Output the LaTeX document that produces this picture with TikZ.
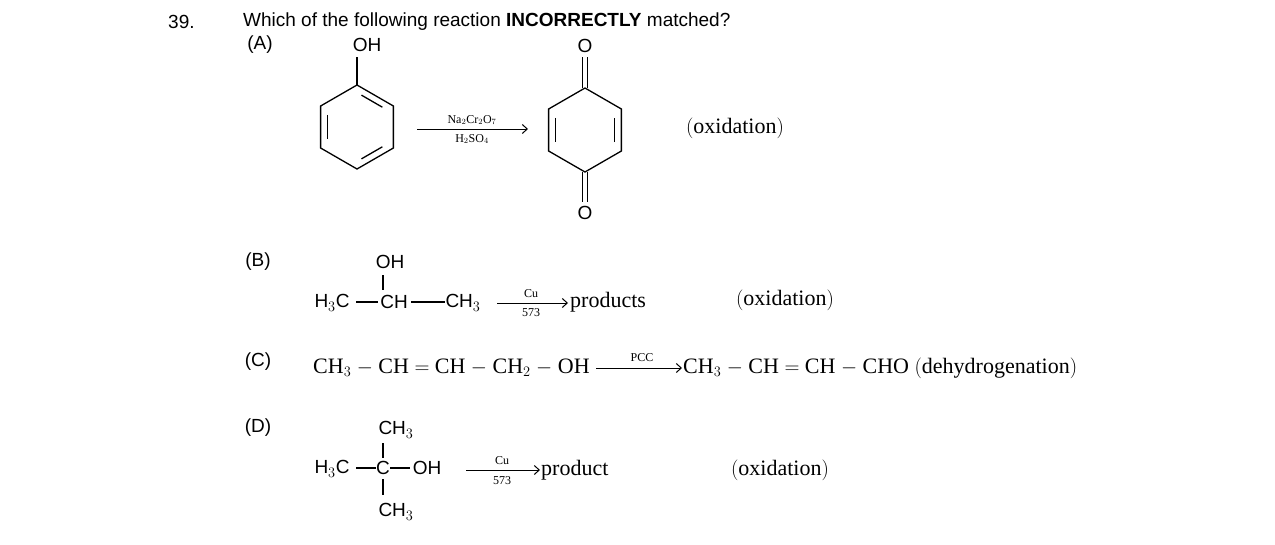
\documentclass[tikz,border=0pt]{standalone}
\usepackage{fontspec}
\usetikzlibrary{calc,arrows.meta}
\setmainfont{Liberation Serif}
\setsansfont{Liberation Sans}
\begin{document}
\begin{tikzpicture}[x=1pt,y=-1pt,
  sf/.style={font=\sffamily\fontsize{19}{20}\selectfont,inner sep=0pt},
  rm/.style={font=\fontsize{22}{24}\selectfont,inner sep=0pt},
  sm/.style={font=\fontsize{12}{13}\selectfont,inner sep=0pt},
  bond/.style={line width=1.3pt},
  arr/.style={line width=1pt,-{Straight Barb[length=5pt,width=9pt]}}]
\useasboundingbox (0,0) rectangle (1275,544);
\node[sf,anchor=west] (n39) at (168,22) {39.};
\node[sf,anchor=west] (q) at (243,22) {Which of the following reaction \textbf{INCORRECTLY} matched?};
% A
\node[sf] (lA) at (260,45) {(A)};
\coordinate (cA) at (357,127);
\foreach \i in {0,...,5}{\coordinate (p\i) at ({357+42*cos(90+60*\i)},{127-42*sin(90+60*\i)});}
\draw[bond] (p0)--(p1)--(p2)--(p3)--(p4)--(p5)--cycle;
\draw[bond] ($(p1)!0.15!(p2)!0.18!(cA)$) -- ($(p2)!0.15!(p1)!0.18!(cA)$);
\draw[bond] ($(p3)!0.15!(p4)!0.18!(cA)$) -- ($(p4)!0.15!(p3)!0.18!(cA)$);
\draw[bond] ($(p5)!0.15!(p0)!0.18!(cA)$) -- ($(p0)!0.15!(p5)!0.18!(cA)$);
\node[sf] (ohA) at (367,45) {OH};
\draw[bond] (p0) -- (357,57);
\coordinate (a1) at (417,129); \coordinate (a2) at (528,129);
\draw[arr] (a1) -- (a2);
\node[sm] (r1) at (472,120) {Na$_2$Cr$_2$O$_7$};
\node[sm] (r2) at (472,139) {H$_2$SO$_4$};
\coordinate (cQ) at (585,130);
\foreach \i in {0,...,5}{\coordinate (q\i) at ({585+42*cos(90+60*\i)},{130-42*sin(90+60*\i)});}
\draw[bond] (q0)--(q1)--(q2)--(q3)--(q4)--(q5)--cycle;
\draw[bond] ($(q1)!0.15!(q2)!0.18!(cQ)$) -- ($(q2)!0.15!(q1)!0.18!(cQ)$);
\draw[bond] ($(q4)!0.15!(q5)!0.18!(cQ)$) -- ($(q5)!0.15!(q4)!0.18!(cQ)$);
\node[sf] (o1) at (585,46) {O};
\node[sf] (o2) at (585,213) {O};
\draw[bond] ($(q0)+(-2.2,0)$) -- (582.8,57); \draw[bond] ($(q0)+(2.2,0)$) -- (587.2,57);
\draw[bond] ($(q3)+(-2.2,0)$) -- (582.8,202); \draw[bond] ($(q3)+(2.2,0)$) -- (587.2,202);
\node[rm] (oxA) at (735,128) {$($oxidation$)$};
% B
\node[sf] (lB) at (258,262) {(B)};
\node[sf] (ohB) at (390,262) {OH};
\node[sf] (b1) at (332,303) {H$_3$C};
\node[sf] (b2) at (394,302) {CH};
\node[sf] (b3) at (463,303) {CH$_3$};
\draw[bond] (383,275) -- (383,290);
\draw[bond] (356,302) -- (378,302);
\draw[bond] (411,302) -- (445,302);
\draw[arr] (497,303) -- (568,303);
\node[sm] (cuB) at (531,294) {Cu};
\node[sm] (tB) at (531,313) {573};
\node[rm,anchor=west] (pB) at (570,302) {products};
\node[rm] (oxB) at (785,300) {$($oxidation$)$};
% C
\node[sf] (lC) at (258,362) {(C)};
\node[rm,anchor=west] (c1) at (313,368) {CH$_3$ $-$ CH $=$ CH $-$ CH$_2$ $-$ OH};
\draw[arr] (596,368) -- (682,368);
\node[sm] (pcc) at (642,358) {PCC};
\node[rm,anchor=west] (c2) at (683,368) {CH$_3$ $-$ CH $=$ CH $-$ CHO $\bigl($dehydrogenation$\bigr)$};
% D
\node[sf] (lD) at (258,428) {(D)};
\node[sf] (d0) at (396,430) {CH$_3$};
\node[sf] (d1) at (332,469) {H$_3$C};
\node[sf] (d2) at (383,468) {C};
\node[sf] (d3) at (427,468) {OH};
\node[sf] (d4) at (396,512) {CH$_3$};
\draw[bond] (383,443) -- (383,458);
\draw[bond] (383,479) -- (383,495);
\draw[bond] (356,468) -- (376,468);
\draw[bond] (390,468) -- (410,468);
\draw[arr] (466,470) -- (540,470);
\node[sm] (cuD) at (502,461) {Cu};
\node[sm] (tD) at (502,481) {573};
\node[rm,anchor=west] (pD) at (541,470) {product};
\node[rm] (oxD) at (780,470) {$($oxidation$)$};
\end{tikzpicture}
\end{document}
